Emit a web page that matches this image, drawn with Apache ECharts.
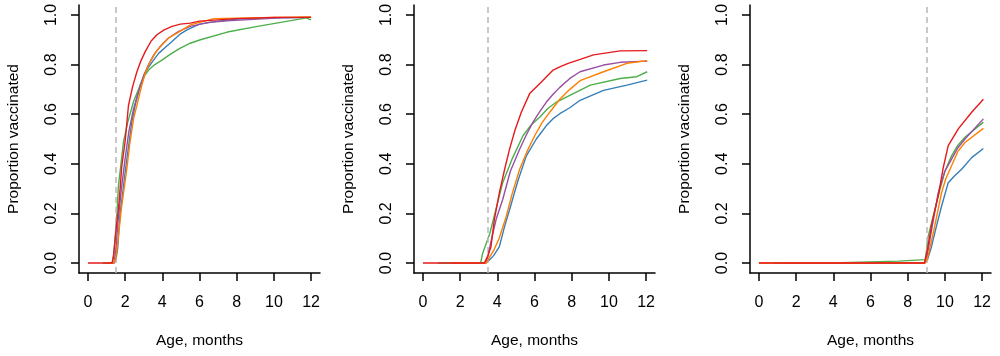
<!DOCTYPE html>
<html>
<head>
<meta charset="utf-8">
<script src="https://cdn.jsdelivr.net/npm/echarts@6/dist/echarts.min.js"></script>
<style>
html,body{margin:0;padding:0;background:#fff;}
#chart{width:1000px;height:356px;}
</style>
</head>
<body>
<div id="chart"></div>
<script>
// ---- Data ----
const xTicks = [0, 2, 4, 6, 8, 10, 12];
const yTicks = [0, 0.2, 0.4, 0.6, 0.8, 1.0];
const thresholds = [1.5, 3.5, 9];
const groupNames = ['Blue', 'Green', 'Purple', 'Orange', 'Red'];
const groupColors = ['#377EB8', '#4DAF4A', '#984EA3', '#FF7F00', '#E41A1C'];

// Panel 1
const p1Blue   = [[1.2,0],[1.4,0],[1.5,0.01],[1.6,0.06],[1.73,0.2],[1.85,0.27],[2.0,0.365],[2.15,0.45],[2.36,0.568],[2.55,0.64],[2.81,0.717],[3.05,0.765],[3.26,0.79],[3.5,0.815],[3.8,0.845],[4.2,0.872],[4.52,0.893],[5.0,0.925],[5.33,0.94],[6,0.963],[7,0.975],[8,0.983],[10,0.988],[12,0.99]];
const p1Green  = [[0.8,0],[1.3,0],[1.4,0.04],[1.55,0.19],[1.64,0.31],[1.91,0.487],[2.15,0.57],[2.45,0.65],[2.81,0.717],[3.05,0.755],[3.26,0.778],[3.6,0.8],[3.98,0.818],[4.4,0.84],[4.97,0.866],[5.5,0.886],[6.05,0.9],[7.5,0.931],[9.12,0.954],[10.92,0.977],[11.73,0.988],[12,0.98]];
const p1Purple = [[1.2,0],[1.4,0],[1.5,0.05],[1.62,0.17],[1.8,0.3],[2.0,0.42],[2.2,0.53],[2.45,0.62],[2.72,0.69],[3.0,0.755],[3.26,0.8],[3.55,0.84],[3.89,0.873],[4.3,0.905],[4.88,0.934],[5.5,0.954],[6.5,0.97],[7.68,0.977],[10.38,0.988],[12,0.99]];
const p1Orange = [[0.9,0],[1.4,0],[1.5,0.02],[1.6,0.08],[1.8,0.22],[2.09,0.378],[2.25,0.48],[2.45,0.58],[2.9,0.717],[3.1,0.77],[3.35,0.812],[3.65,0.85],[3.98,0.88],[4.35,0.908],[4.79,0.927],[5.51,0.96],[6.77,0.985],[8,0.987],[10,0.99],[12,0.992]];
const p1Red    = [[0,0],[1.3,0],[1.37,0.025],[1.55,0.16],[1.64,0.215],[1.73,0.3],[1.82,0.39],[2.0,0.49],[2.18,0.635],[2.4,0.71],[2.63,0.77],[2.85,0.815],[3.08,0.852],[3.4,0.895],[3.71,0.92],[4.1,0.94],[4.52,0.954],[4.97,0.963],[5.51,0.967],[6,0.975],[8,0.985],[10,0.99],[12,0.99]];

// Panel 2
const p2Blue   = [[1.5,0],[3.4,0],[3.55,0.01],[3.8,0.03],[4.11,0.066],[4.4,0.15],[4.66,0.215],[5.1,0.33],[5.56,0.432],[6.1,0.5],[6.64,0.554],[7.0,0.582],[7.36,0.602],[7.9,0.626],[8.45,0.656],[9.71,0.696],[10.97,0.717],[12.06,0.737]];
const p2Green  = [[0.8,0],[1.5,0],[3.1,0],[3.21,0.039],[3.6,0.12],[4.29,0.324],[4.8,0.42],[5.38,0.513],[5.8,0.555],[6.28,0.588],[6.7,0.622],[7.18,0.649],[7.9,0.676],[9.0,0.717],[10.61,0.744],[11.5,0.751],[12.06,0.771]];
const p2Purple = [[1.5,0],[3.35,0],[3.5,0.03],[3.7,0.1],[3.95,0.18],[4.29,0.256],[4.7,0.37],[5.2,0.459],[5.55,0.515],[5.92,0.568],[6.3,0.612],[6.64,0.649],[7.0,0.68],[7.36,0.708],[7.9,0.744],[8.45,0.771],[9.71,0.798],[10.61,0.809],[12.06,0.814]];
const p2Orange = [[1.5,0],[3.4,0],[3.55,0.02],[3.8,0.05],[4.1,0.1],[4.48,0.188],[4.8,0.28],[5.2,0.378],[5.6,0.45],[6.01,0.513],[6.4,0.565],[6.82,0.608],[7.36,0.66],[7.9,0.7],[8.45,0.735],[9.71,0.771],[10.97,0.805],[12.06,0.816]];
const p2Red    = [[0,0],[1.5,0],[3.3,0],[3.5,0.03],[3.66,0.066],[3.84,0.175],[4.11,0.283],[4.4,0.38],[4.66,0.459],[4.95,0.535],[5.29,0.608],[5.74,0.683],[6.37,0.73],[7.0,0.778],[7.36,0.791],[7.81,0.805],[8.5,0.822],[9.17,0.839],[10.61,0.855],[12.06,0.856]];

// Panel 3
const p3Blue   = [[1.5,0],[8.9,0],[9.05,0.01],[9.28,0.066],[9.55,0.15],[9.82,0.229],[10.18,0.324],[10.5,0.35],[10.9,0.378],[11.44,0.425],[12.07,0.462]];
const p3Green  = [[0.8,0],[3.9,0],[4.0,0.005],[7.5,0.008],[7.6,0.012],[8.95,0.014],[9.1,0.107],[9.64,0.27],[10.0,0.37],[10.36,0.432],[10.7,0.475],[11.08,0.507],[12.07,0.568]];
const p3Purple = [[1.5,0],[8.9,0],[9.05,0.03],[9.3,0.14],[9.64,0.283],[10.0,0.37],[10.36,0.419],[10.7,0.465],[11.08,0.5],[12.07,0.581]];
const p3Orange = [[0,0],[8.95,0],[9.1,0.03],[9.4,0.13],[9.82,0.283],[10.05,0.34],[10.36,0.392],[10.7,0.45],[11.08,0.486],[12.07,0.543]];
const p3Red    = [[0,0],[8.9,0],[9.05,0.05],[9.3,0.16],[9.64,0.27],[9.9,0.38],[10.18,0.473],[10.72,0.541],[11.44,0.608],[12.07,0.66]];

const panels = [
  [p1Blue, p1Green, p1Purple, p1Orange, p1Red],
  [p2Blue, p2Green, p2Purple, p2Orange, p2Red],
  [p3Blue, p3Green, p3Purple, p3Orange, p3Red]
];

// ---- Layout ----
const gridLefts = [79, 414, 750];
const gridWidth = 241;
const FONT = 'Liberation Sans, Arial, sans-serif';

const grids = [], xAxes = [], yAxes = [], series = [];
panels.forEach((panel, i) => {
  grids.push({left: gridLefts[i], top: 5, width: gridWidth, height: 268});
  xAxes.push({
    type: 'value', gridIndex: i, min: -0.48, max: 12.48,
    name: 'Age, months', nameLocation: 'middle', nameGap: 60,
    nameTextStyle: {color: '#000', fontSize: 15.5, fontFamily: FONT},
    axisLine: {show: true, onZero: false, lineStyle: {color: '#000', width: 1.5}},
    axisTick: {show: true, inside: false, length: 8, customValues: xTicks, lineStyle: {color: '#000', width: 1.5}},
    axisLabel: {show: true, customValues: xTicks, margin: 22, color: '#000', fontSize: 16, fontFamily: FONT},
    splitLine: {show: false}
  });
  yAxes.push({
    type: 'value', gridIndex: i, min: -0.04, max: 1.04,
    name: 'Proportion vaccinated', nameLocation: 'middle', nameGap: 57, nameRotate: 90,
    nameTextStyle: {color: '#000', fontSize: 15.5, fontFamily: FONT},
    axisLine: {show: true, onZero: false, lineStyle: {color: '#000', width: 1.5}},
    axisTick: {show: true, inside: false, length: 8, customValues: yTicks, lineStyle: {color: '#000', width: 1.5}},
    axisLabel: {show: true, customValues: yTicks, rotate: 90, margin: 19, color: '#000', fontSize: 16, fontFamily: FONT,
      formatter: v => Number(v).toFixed(1)},
    splitLine: {show: false}
  });
  panel.forEach((data, k) => {
    const s = {
      type: 'line', name: groupNames[k], xAxisIndex: i, yAxisIndex: i,
      data: data, showSymbol: false, symbol: 'none', silent: true,
      lineStyle: {color: groupColors[k], width: 1.4},
      itemStyle: {color: groupColors[k]},
      z: 3 + k
    };
    if (k === 0) {
      s.markLine = {
        silent: true, symbol: 'none', label: {show: false},
        lineStyle: {color: '#b8b8b8', type: [6, 4], width: 1.5},
        data: [{xAxis: thresholds[i]}]
      };
    }
    series.push(s);
  });
});

const chart = echarts.init(document.getElementById('chart'), null, {renderer: 'canvas'});
chart.setOption({
  animation: false,
  backgroundColor: '#fff',
  grid: grids, xAxis: xAxes, yAxis: yAxes, series: series
});
</script>
</body>
</html>
